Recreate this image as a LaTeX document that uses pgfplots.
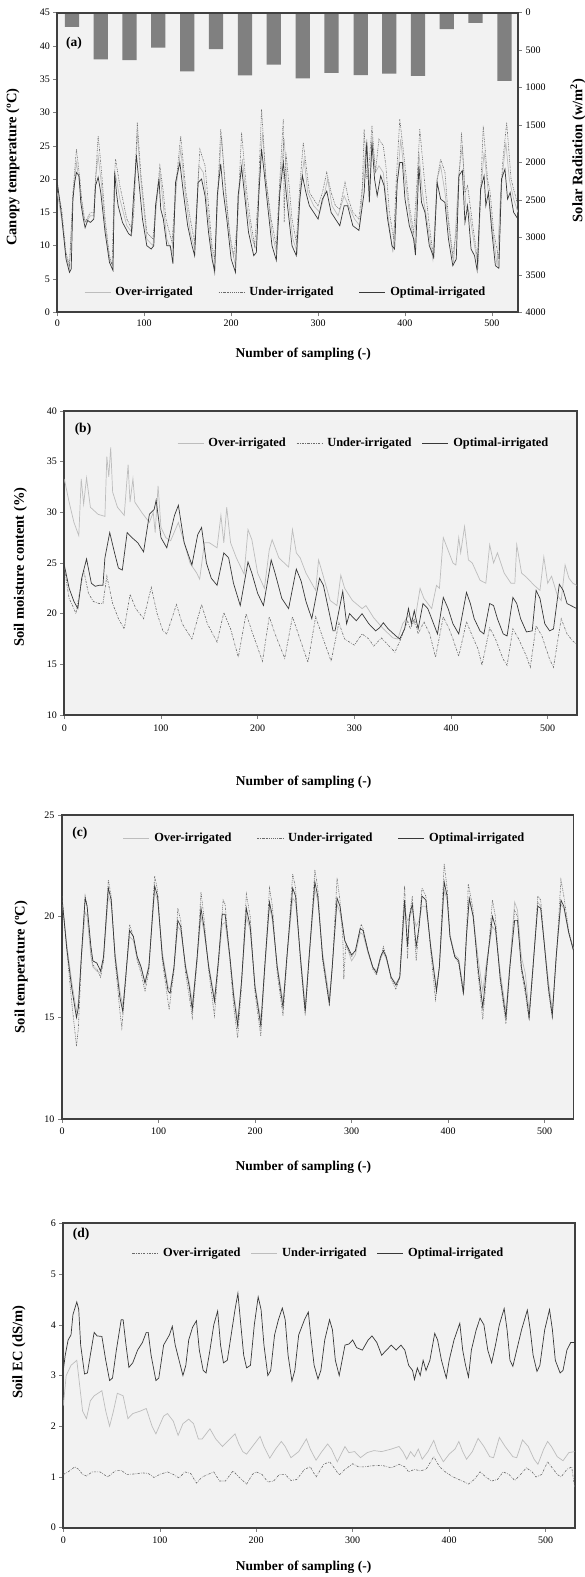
\documentclass[border=0pt]{standalone}
\usepackage{fontspec}
\setmainfont{Liberation Serif}
\usepackage{pgfplots}
\pgfplotsset{compat=1.18}
\definecolor{bgc}{HTML}{F2F2F2}
\definecolor{axc}{HTML}{404040}
\definecolor{overc}{HTML}{BDBDBD}
\definecolor{underc}{HTML}{6A6A6A}
\definecolor{optc}{HTML}{383838}
\definecolor{barc}{HTML}{808080}
\tikzset{ylabfont/.style={font=\bfseries\fontsize{14.5}{16}\selectfont},
         xlabfont/.style={font=\bfseries\fontsize{13.5}{15}\selectfont}}
\pgfplotsset{
 common/.style={
  scale only axis, anchor=south west, xmin=0, xmax=530,
  /pgf/number format/assume math mode=true,
  /pgf/number format/1000 sep={},
  axis line style={draw=axc, line width=1.8pt},
  tick style={draw=gray, line width=0.5pt},
  major tick length=4pt, tick align=outside,
  xtick pos=left, ytick pos=left,
  xtick={0,100,...,500},
  ticklabel style={font=\fontsize{10}{12}\selectfont},
  no markers,
  legend columns=3,
  legend image code/.code={\draw[##1] (0pt,0pt) -- (26pt,0pt);},
  legend style={draw=none, fill=none, anchor=west, inner sep=0pt,
    font=\bfseries\fontsize{12.4}{14}\selectfont, nodes={inner sep=1.5pt},
    /tikz/every odd column/.append style={column sep=3pt}},
 },
 overst/.style={color=overc, line width=0.7pt},
 optst/.style={color=optc, line width=0.7pt},
}
\begin{document}
\begin{tikzpicture}
\path[use as bounding box] (0,0) rectangle (585pt,1577pt);
% ---------------- panel (a): bars -------------
\begin{axis}[scale only axis, anchor=south west, at={(57.3pt,1264.7pt)},
  width=460.7pt, height=299.6pt, xmin=0, xmax=530, ymin=0, ymax=4000,
  y dir=reverse, axis x line=none, axis y line*=right,
  axis background/.style={fill=bgc},
  axis line style={draw=axc, line width=1.8pt},
  tick style={draw=gray, line width=0.5pt}, major tick length=4pt, tick align=outside,
  ytick={0,500,...,4000},
  /pgf/number format/assume math mode=true, /pgf/number format/1000 sep={},
  ticklabel style={font=\fontsize{10}{12}\selectfont},
  every axis y label/.style={at={(axis description cs:1.130,0.54)},rotate=90,anchor=center,ylabfont},
  ylabel={Solar Radiation (w/m\textsuperscript{2})}]
\addplot[ybar, fill=barc, draw=none, bar width=16.4] coordinates {(17,190) (50,623) (83,632) (116,468) (149.5,782) (182.5,486) (216,836) (249,695) (282.5,877) (315.5,805) (349,832) (382,814) (415,845) (448,218) (481,136) (514.5,909)};
\end{axis}
% ---------------- panel (a): temperature -------------
\begin{axis}[common, at={(57.3pt,1264.7pt)}, width=460.7pt, height=299.6pt,
  ymin=0, ymax=45, ytick={0,5,...,45},
  every axis y label/.style={at={(axis description cs:-0.0962,0.485)},rotate=90,anchor=center,ylabfont},
  every axis x label/.style={at={(axis description cs:0.534,-0.139)},anchor=center,xlabfont},
  ylabel={Canopy temperature (ºC)}, xlabel={Number of sampling (-)},
  legend style={at={(0.058,0.068)}, /tikz/every even column/.append style={column sep=24pt}}]
\addplot[overst] coordinates {(0,18) (5,14) (10,8.5) (14,6.5) (18,17.5) (22,22.5) (26,19) (30,14.5) (33,13.5) (38,14.5) (42,14.5) (44,20) (47,23.5) (51,19) (55,13) (60,8) (64,7) (66,21) (68,20) (72,17) (80,13) (86,12) (89,18) (92,27) (96,20) (103,11) (110,10) (114,16) (118,21) (122,16) (126,11) (132,9) (137,19) (142,24.5) (147,18) (153,12) (158,9.5) (163,22) (168,21) (174,14) (178,9) (181,5.5) (185,19) (189,26.5) (194,17) (200,10) (205,7) (209,18) (213,23) (218,16) (224,11) (229,9.5) (232,19) (236,27) (240,20) (247,12) (252,9) (256,19) (261,26) (265,18) (271,11) (276,9) (280,19) (284,23) (288,18) (295,16) (302,15) (306,17) (311,20) (316,16) (323,14.5) (330,17.5) (335,16) (342,14) (348,13) (353,22) (356,26) (359,18) (362,26.5) (366,21) (370,22) (375,21) (380,15) (386,9) (391,19) (395,26) (400,20) (406,14) (411,10) (416,24) (420,18) (425,14) (432,8) (437,20) (441,22) (446,18) (452,11) (456,7.5) (462,21) (466,25) (470,16) (474,15) (480,10) (484,7) (487,18) (491,24) (495,19) (501,12) (506,7) (510,18) (516,25.5) (520,20) (525,17) (530,15)};
\addlegendentry{Over-irrigated}
\addplot[color=underc, line width=0.6pt, dash pattern=on 1.5pt off 1pt on 0.6pt off 1pt on 0.6pt off 1pt] coordinates {(0,19) (5,15.5) (10,9) (14,7) (18,18) (22,24.5) (26,20) (28,17) (32,13.5) (38,15) (42,15) (44,20) (47,26.5) (51,21) (55,14) (60,8.5) (63,7) (66,21) (67,23) (72,19) (80,14) (86,12.5) (88,15) (92,28.5) (96,21) (103,12) (110,11) (114,17) (118,22) (122,18) (125,14) (132,10.5) (137,20) (142,26.5) (148,18) (153,14) (158,10.5) (164,24.5) (170,22) (174,16) (178,10) (181,8) (185,19) (188,27.5) (194,18) (198,12) (203,8.5) (207,13) (212,27) (218,18) (222,14) (227,10) (231,17) (235,30.5) (240,20) (246,14) (252,10) (256,20) (260,29) (261,13.5) (263,24) (266,20) (270,14) (275,10.5) (279,19) (283,25.5) (290,18) (300,16) (305,18) (310,21) (315,18) (320,16) (325,15.5) (331,19.5) (335,17) (340,15) (347,14) (351,19) (353,27.5) (356,20) (358,21) (362,28) (366,21) (370,26) (375,25) (378,22) (382,15) (387,11) (390,20) (394,29) (400,22) (405,16) (410,12) (414,20) (417,27.5) (423,19) (428,13) (433,8) (437,20) (441,23) (446,21) (450,14) (455,8.5) (459,12) (465,27) (469,18) (472,19) (478,13) (484,7.5) (487,18) (490,28) (495,20) (498,18) (502,12) (508,8) (512,22) (517,28.5) (522,20) (526,18) (530,16)};
\addlegendentry{Under-irrigated}
\addplot[optst] coordinates {(0,19.5) (5,14.5) (10,8) (14,6) (16,6.5) (18,17) (20,19.5) (22,21) (25,20.5) (27,16.5) (30,14) (32,12.7) (35,13.8) (38,13.5) (42,14) (44,19) (47,20.3) (50,18) (55,12) (60,7.5) (64,6.3) (66,21) (68,18) (70,16) (75,13.5) (82,11.8) (85,11.5) (88,18) (91,23.6) (94,19.5) (98,14) (103,10) (108,9.5) (111,10) (113,16) (117,20) (119,15.5) (122,14) (126,10) (130,10) (133,7.3) (136,19.5) (141,22.5) (145,18) (150,13) (155,10) (158,8.5) (162,19.5) (166,20) (170,17.5) (174,12) (178,8) (181,6.2) (184,17.5) (188,22.3) (191,18) (195,14) (200,8) (205,6) (208,17.5) (212,21.8) (216,17) (220,12) (226,8.5) (229,9) (232,18) (235,24.5) (238,21) (242,16) (247,10) (252,7.8) (256,18) (260,22.5) (264,17) (270,10) (275,8.5) (279,17) (282,20.5) (286,18) (290,16) (295,15) (300,14) (305,17) (310,18.2) (315,15) (320,14) (325,13) (330,16) (334,16) (340,13) (347,12.3) (353,18) (356,25.5) (359,16.5) (362,25.5) (365,20) (368,17.5) (372,20.5) (376,19) (380,14) (385,10) (388,9.5) (391,19.5) (394,22.5) (397,22.5) (400,17) (405,13) (410,11) (412,8.6) (416,22) (419,16.5) (423,15) (428,10) (433,8.3) (437,19.5) (441,17) (446,16.5) (450,11) (455,7) (459,8) (462,20.5) (466,21.3) (469,13.5) (472,16) (476,9.5) (480,8.5) (483,6.3) (487,18.5) (491,20.5) (493,16) (496,18) (500,12) (504,7) (508,6.6) (511,20) (515,21.5) (518,17) (521,18) (525,15) (530,14)};
\addlegendentry{Optimal-irrigated}
\node[font=\bfseries\fontsize{13.5}{15}\selectfont] at (rel axis cs:0.036,0.899) {(a)};
\end{axis}
% ---------------- panel (b) -------------
\begin{axis}[common, at={(64.3pt,862pt)}, width=512.4pt, height=304pt,
  axis background/.style={fill=bgc},
  ymin=10, ymax=40, ytick={10,15,...,40},
  xticklabel style={yshift=-2pt},
  every axis y label/.style={at={(axis description cs:-0.0855,0.487)},rotate=90,anchor=center,ylabfont},
  every axis x label/.style={at={(axis description cs:0.467,-0.220)},anchor=center,xlabfont},
  ylabel={Soil moisture content (\%)}, xlabel={Number of sampling (-)},
  legend style={at={(0.22,0.895)}, /tikz/every even column/.append style={column sep=9pt}}]
\addplot[overst] coordinates {(0,33.3) (5,31) (10,29) (15,27.7) (17.5,33.3) (20,30.8) (23,33.4) (27,30.5) (35,29.8) (42,29.6) (44,35.5) (46,33.5) (48,36.4) (50,32) (55,30.5) (62,29.7) (66,34.7) (68,31) (71,33.3) (73,31) (80,30) (88,29) (92,30) (94,28) (97,32.6) (100,28.5) (105,27.5) (110,27.2) (118,29) (124,27) (130,25) (137,24) (140,23.4) (145,27) (150,27) (158,26.5) (162,29.7) (165,27) (168,30.5) (172,27) (178,25.5) (186,23.9) (190,28.3) (194,27.3) (200,24) (207,22.5) (212,26.3) (215,27.3) (222,25.5) (232,24.6) (236,28.3) (240,26) (244,25.5) (250,24) (260,22.3) (263,25.3) (267,24) (275,21.3) (282,20.8) (286,23.8) (290,22.5) (298,21.3) (308,20.5) (312,20.8) (320,19.6) (330,18.5) (340,17.6) (345,17.5) (350,19) (356,19.8) (362,19) (368,22.5) (372,21.5) (380,20.5) (385,22.8) (388,22.5) (392,27.5) (396,26.5) (402,25) (405,24.8) (408,27.5) (410,26) (414,28.6) (418,25.3) (422,25) (430,23.3) (436,23) (440,26.8) (444,25) (448,26) (455,24) (462,23) (466,23) (468,26.8) (473,24) (478,23.6) (486,22.8) (492,22.3) (496,25.6) (500,23) (504,23.7) (510,21.8) (514,21.3) (518,24.8) (522,23.5) (526,23) (530,22.8)};
\addlegendentry{Over-irrigated}
\addplot[color=underc, line width=0.6pt, dash pattern=on 2.2pt off 1.3pt on 0.6pt off 1.3pt] coordinates {(0,24.5) (5,21.5) (10,20.5) (12,20) (20,24.3) (25,22) (30,21.2) (36,21) (40,21) (44,23.7) (50,21) (56,19.5) (62,18.5) (68,21.9) (74,20.5) (82,19.5) (90,22.6) (96,20) (102,18.3) (106,18) (116,20.9) (122,19) (132,17.5) (142,20.9) (148,19) (158,17.2) (165,20.1) (172,18.5) (180,15.7) (188,20) (195,18) (205,15.3) (212,19.7) (218,18) (228,15.6) (236,19.7) (242,18) (252,15.2) (260,19.7) (266,18) (276,15.3) (284,19.1) (290,17.5) (300,16.9) (308,18) (315,17.5) (320,16.8) (328,17.6) (334,17) (342,16.2) (348,17.5) (355,19.3) (358,18.5) (362,19.5) (366,18) (372,19.2) (378,18) (384,15.7) (392,19.7) (398,18.5) (402,17.5) (408,15.8) (416,19.2) (422,17.8) (428,16.5) (432,14.9) (440,18.6) (446,17.5) (454,15.5) (458,14.9) (464,18.5) (470,17.5) (478,15.8) (482,14.7) (488,18.8) (494,17.8) (502,15.5) (506,14.7) (514,19.5) (520,18) (526,17.3) (530,17)};
\addlegendentry{Under-irrigated}
\addplot[optst] coordinates {(0,24.8) (5,22.5) (10,21.2) (14,20.5) (18,23.5) (23,25.4) (28,23) (32,22.7) (36,22.8) (40,22.8) (42,25.5) (47,28) (52,26) (56,24.5) (60,24.3) (65,28) (70,27.5) (76,27) (82,26.1) (88,29.8) (93,30.3) (95,31.2) (100,27.5) (106,26.5) (114,29.7) (118,30.7) (124,27) (132,24.8) (138,27.8) (142,28.5) (147,25) (152,23.5) (158,22.8) (165,26) (170,25.5) (175,23) (182,20.8) (190,25.1) (194,24) (200,22) (206,20.8) (214,25.3) (218,24) (225,21.5) (232,20.5) (240,24.4) (245,23.2) (250,21.2) (256,19.5) (264,23.5) (268,22.8) (272,21) (278,18.3) (280,18.3) (288,22.2) (292,19) (295,20) (302,19.3) (308,20) (315,19) (322,18.3) (326,18.6) (330,19.1) (335,18.5) (343,17.8) (347,17.5) (352,18.5) (356,20.5) (359,19) (362,20.3) (366,18.5) (371,21) (376,20.5) (382,19) (386,18) (392,21.6) (397,20.5) (402,19) (408,18) (416,22.1) (420,21) (424,19.5) (430,18.3) (434,18) (440,21) (444,20.8) (448,19.5) (454,18) (458,17.8) (464,21.6) (468,21) (472,19.5) (478,18.2) (484,18.3) (488,22.3) (492,21.5) (497,19) (502,18.3) (506,18.5) (512,22.9) (516,22.3) (520,21) (526,20.7) (530,20.5)};
\addlegendentry{Optimal-irrigated}
\node[font=\bfseries\fontsize{13.5}{15}\selectfont] at (rel axis cs:0.0365,0.941) {(b)};
\end{axis}
% ---------------- panel (c) -------------
\begin{axis}[common, at={(62pt,458pt)}, width=511.5pt, height=304pt,
  axis background/.style={fill=bgc},
  ymin=10, ymax=25, ytick={10,15,20,25},
  xticklabel style={yshift=-1.5pt},
  every axis y label/.style={at={(axis description cs:-0.080,0.50)},rotate=90,anchor=center,ylabfont},
  every axis x label/.style={at={(axis description cs:0.472,-0.158)},anchor=center,xlabfont},
  ylabel={Soil temperature (ºC)}, xlabel={Number of sampling (-)},
  legend style={at={(0.119,0.924)}, /tikz/every even column/.append style={column sep=24pt}}]
\addplot[overst] coordinates {(0,20.8) (5,18.6) (10,16.8) (15,15.3) (17,15.8) (20,17.9) (24,20.2) (26,20) (30,18) (32,17.5) (36,17.3) (40,17.2) (43,17.8) (48,21) (51,20.6) (55,18.2) (60,16.3) (63,15.6) (66,17) (70,19) (74,18.8) (78,17.9) (82,17.4) (86,16.8) (90,17.6) (96,21.2) (99,20.8) (104,18.2) (110,16.5) (112,16.4) (116,17.4) (120,19.5) (123,19.3) (128,17.6) (132,16.7) (135,15.7) (140,17.8) (144,20) (147,19.3) (152,17.6) (158,16) (162,17.6) (166,19.6) (169,19.7) (174,17.9) (178,16.2) (182,14.9) (186,16.7) (191,20) (195,19.3) (200,16.6) (206,14.9) (210,17.3) (215,20.5) (218,19.8) (223,17.6) (229,15.8) (233,17.9) (239,20.9) (242,20.7) (247,18.1) (252,15.6) (256,17.9) (262,21.3) (265,20.8) (270,18.2) (277,16) (280,17.5) (285,20.6) (288,20.2) (293,18.8) (296,18.4) (300,17.8) (304,18.1) (309,19.2) (312,19.1) (317,18.2) (322,17.5) (326,17.3) (330,17.9) (333,18.2) (336,17.9) (341,17) (346,16.7) (350,17) (355,20.3) (358,19.8) (360,19.9) (363,20.3) (367,19.5) (370,19.8) (373,20.5) (377,20.5) (382,18.6) (388,16.5) (391,17.5) (396,21.3) (399,20.8) (402,19.1) (407,18.1) (411,17.9) (416,16.4) (419,18.8) (422,20.8) (426,20) (431,18) (436,16.3) (440,17.8) (446,19.5) (449,19.3) (454,17.3) (460,15.3) (464,17.6) (469,20.7) (472,20.3) (476,18) (480,17.2) (484,15.3) (488,17.5) (493,20.7) (496,20.5) (500,18.6) (504,16.8) (508,15.4) (512,17.9) (517,20.6) (520,20.4) (525,19.2) (530,18.4)};
\addlegendentry{Over-irrigated}
\addplot[color=underc, line width=0.6pt, dash pattern=on 1.5pt off 1pt on 0.6pt off 1pt on 0.6pt off 1pt] coordinates {(0,21) (5,18.3) (10,15.8) (15,13.6) (17,14.5) (20,17.8) (24,21) (26,20.5) (30,18.2) (32,17.6) (36,17.4) (40,17) (43,17.8) (48,21.8) (51,21) (55,17.8) (60,15.3) (62,14.5) (66,16.8) (70,19.6) (74,19) (78,17.8) (82,17.2) (86,16.3) (90,17.3) (96,22) (99,21.3) (104,17.8) (111,15.4) (116,17.3) (120,20.4) (123,19.8) (128,17.2) (132,16) (135,15) (140,17.8) (144,21.2) (147,20) (152,17.3) (158,15.1) (162,17.6) (167,20.8) (169,20.6) (174,17.8) (178,15.5) (182,14) (186,16.5) (191,21.1) (195,20) (200,16.2) (206,14.1) (210,17.3) (215,21.4) (218,20.5) (223,17.2) (229,15.1) (233,17.8) (239,22.1) (242,21.4) (247,17.8) (252,15.1) (256,17.8) (262,22.3) (265,21.4) (270,17.8) (277,15.6) (280,17.4) (285,21.9) (288,20.8) (291,18.9) (292,16.9) (294,18.6) (300,18) (304,18.3) (310,19.6) (312,19.4) (317,18.3) (322,17.4) (326,17.1) (330,17.9) (333,18.5) (336,18) (341,16.9) (346,16.4) (350,17) (355,21.5) (358,17.9) (360,20) (363,21) (367,17.8) (370,19.5) (373,21.4) (377,21) (382,18.3) (387,15.9) (391,17.5) (396,22.6) (399,21.4) (402,19) (407,18) (411,17.7) (416,16.1) (419,19) (421,21.6) (426,20.3) (431,17.2) (436,14.9) (440,17.2) (446,20.8) (449,20) (454,16.8) (460,14.7) (464,17.3) (469,20.3) (472,20) (476,17.3) (480,16.2) (484,14.9) (488,17.3) (493,21) (496,20.8) (500,18.5) (504,16.3) (508,15) (512,17.8) (517,21.8) (520,21) (525,19.3) (530,18.3)};
\addlegendentry{Under-irrigated}
\addplot[optst] coordinates {(0,20.9) (5,18.4) (10,16.5) (15,15) (17,15.5) (20,18) (24,20.9) (26,20.5) (30,18.5) (32,17.8) (36,17.7) (40,17.3) (43,18) (48,21.4) (51,20.8) (55,18) (60,16) (63,15.3) (66,17) (70,19.3) (74,19) (78,18) (82,17.5) (86,16.7) (90,17.5) (96,21.5) (99,21) (104,18) (110,16.3) (112,16.2) (116,17.5) (120,19.8) (123,19.5) (128,17.5) (132,16.5) (135,15.4) (140,18) (144,20.4) (147,19.5) (152,17.5) (158,15.8) (162,17.8) (166,20.1) (169,20.1) (174,18) (178,16) (182,14.6) (186,16.8) (191,20.4) (195,19.5) (200,16.5) (206,14.6) (210,17.5) (215,20.7) (218,20) (223,17.5) (229,15.5) (233,18) (239,21.4) (242,21) (247,18) (252,15.3) (256,18) (262,21.7) (265,21) (270,18) (277,15.7) (280,17.5) (285,20.9) (288,20.5) (293,18.8) (296,18.5) (300,18.1) (304,18.3) (309,19.4) (312,19.3) (317,18.3) (322,17.5) (326,17.2) (330,18) (333,18.3) (336,18) (341,17) (346,16.6) (350,17) (355,20.8) (358,18.5) (360,20) (363,20.6) (367,18.5) (370,19.5) (373,21) (377,20.8) (382,18.5) (388,16.3) (391,17.5) (396,21.7) (399,21) (402,19) (407,18) (411,17.8) (416,16.2) (419,19) (422,20.9) (426,20) (431,17.5) (436,15.5) (440,17.5) (446,20) (449,19.5) (454,17) (460,15) (464,17.5) (469,19.8) (472,19.8) (476,17.5) (480,16.5) (484,15) (488,17.5) (493,20.5) (496,20.4) (500,18.5) (504,16.5) (508,15.1) (512,18) (517,20.8) (520,20.5) (525,19.2) (530,18.3)};
\addlegendentry{Optimal-irrigated}
\node[font=\bfseries\fontsize{13.5}{15}\selectfont] at (rel axis cs:0.035,0.941) {(c)};
\end{axis}
% ---------------- panel (d) -------------
\begin{axis}[common, at={(63.3pt,49.3pt)}, width=511.3pt, height=304.4pt,
  axis background/.style={fill=bgc},
  ymin=0, ymax=6, ytick={0,1,...,6},
  xticklabel style={yshift=-1.5pt},
  every axis y label/.style={at={(axis description cs:-0.087,0.577)},rotate=90,anchor=center,ylabfont},
  every axis x label/.style={at={(axis description cs:0.470,-0.131)},anchor=center,xlabfont},
  ylabel={Soil EC (dS/m)}, xlabel={Number of sampling (-)},
  legend style={at={(0.134,0.902)}, /tikz/every even column/.append style={column sep=9pt}}]
\addplot[color=underc, line width=0.6pt, dash pattern=on 2.2pt off 1.3pt on 0.6pt off 1.3pt] coordinates {(0,1.05) (5,1.1) (12,1.2) (16,1.15) (20,1.05) (24,1.02) (30,1.1) (38,1.1) (46,1.0) (54,1.12) (60,1.13) (66,1.05) (74,1.06) (82,1.08) (88,1.07) (94,0.99) (100,1.05) (108,1.1) (114,1.05) (120,0.98) (126,1.1) (132,1.07) (138,0.88) (144,1.0) (150,1.05) (156,1.1) (162,0.92) (168,0.92) (176,1.12) (182,1.0) (190,0.86) (196,1.05) (200,1.1) (206,1.05) (212,0.9) (218,0.92) (224,1.05) (230,1.05) (236,0.93) (242,0.95) (250,1.15) (256,1.2) (262,1.0) (270,1.25) (276,1.3) (280,1.2) (286,1.04) (292,1.15) (300,1.26) (306,1.2) (312,1.2) (320,1.22) (330,1.23) (340,1.18) (348,1.25) (354,1.2) (358,1.1) (364,1.15) (370,1.12) (376,1.15) (384,1.4) (390,1.2) (396,1.1) (404,1.0) (410,0.95) (416,0.9) (420,0.86) (426,0.95) (432,1.1) (438,1.0) (444,0.92) (450,0.95) (456,1.1) (462,1.05) (468,0.93) (474,1.05) (480,1.18) (486,1.1) (490,1.0) (496,1.05) (502,1.3) (506,1.2) (512,1.05) (516,1.0) (522,1.15) (527,1.2) (530,0.8)};
\addlegendentry{Over-irrigated}
\addplot[overst] coordinates {(0,2.4) (3,3.0) (8,3.2) (14,3.3) (17,2.8) (20,2.3) (24,2.15) (28,2.5) (32,2.6) (40,2.7) (44,2.3) (48,2.0) (52,2.3) (56,2.65) (62,2.6) (67,2.15) (72,2.25) (80,2.3) (86,2.35) (92,2.0) (96,1.85) (104,2.2) (108,2.25) (114,2.1) (119,1.82) (124,2.05) (130,2.14) (135,2.05) (140,1.75) (144,1.75) (152,1.95) (158,1.75) (165,1.6) (170,1.7) (178,1.85) (182,1.65) (186,1.5) (190,1.45) (196,1.6) (204,1.8) (208,1.6) (214,1.37) (220,1.55) (226,1.7) (230,1.6) (236,1.38) (244,1.5) (252,1.75) (256,1.55) (262,1.33) (268,1.5) (274,1.65) (278,1.55) (284,1.3) (292,1.6) (296,1.48) (302,1.5) (308,1.38) (315,1.48) (322,1.52) (330,1.5) (340,1.55) (348,1.6) (352,1.5) (356,1.35) (360,1.5) (364,1.4) (368,1.55) (372,1.35) (378,1.5) (384,1.72) (388,1.5) (394,1.3) (400,1.45) (406,1.55) (410,1.7) (414,1.5) (418,1.35) (424,1.5) (430,1.76) (436,1.6) (442,1.4) (446,1.38) (452,1.78) (458,1.6) (466,1.4) (470,1.38) (476,1.73) (482,1.6) (488,1.35) (492,1.25) (498,1.55) (502,1.7) (506,1.6) (512,1.4) (518,1.32) (524,1.48) (530,1.5)};
\addlegendentry{Under-irrigated}
\addplot[optst] coordinates {(0,3.1) (2,3.4) (5,3.7) (8,3.8) (10,4.2) (14,4.45) (16,4.3) (18,3.6) (22,3.03) (25,3.05) (28,3.4) (32,3.85) (35,3.78) (40,3.77) (44,3.3) (48,2.9) (51,2.95) (55,3.5) (60,4.1) (62,4.1) (65,3.6) (68,3.16) (72,3.25) (77,3.5) (82,3.65) (86,3.85) (88,3.85) (91,3.4) (96,2.9) (99,2.95) (104,3.6) (110,3.8) (113,3.97) (116,3.6) (120,3.3) (124,3.0) (127,3.2) (130,3.7) (134,3.95) (138,4.08) (141,3.5) (145,3.1) (148,3.05) (152,3.5) (156,4.0) (160,4.27) (163,3.6) (166,3.25) (170,3.3) (174,3.8) (178,4.3) (181,4.62) (184,4.0) (187,3.4) (190,3.15) (194,3.2) (198,4.0) (202,4.55) (205,4.3) (208,3.6) (212,3.0) (215,3.1) (219,3.8) (223,4.1) (227,4.33) (230,4.1) (233,3.4) (237,2.89) (240,3.1) (244,3.8) (250,4.1) (254,4.25) (257,3.7) (260,3.2) (264,2.93) (267,3.1) (271,3.7) (276,4.1) (279,3.9) (282,3.3) (286,3.0) (289,3.3) (292,3.6) (296,3.62) (300,3.7) (304,3.55) (310,3.5) (316,3.7) (320,3.78) (325,3.65) (330,3.4) (335,3.5) (340,3.6) (345,3.5) (350,3.6) (354,3.5) (358,3.2) (362,3.1) (364,2.92) (367,3.15) (370,3.0) (373,3.3) (376,3.1) (380,3.3) (385,3.83) (388,3.7) (392,3.3) (397,2.95) (400,3.3) (405,3.7) (411,4.03) (414,3.5) (417,3.2) (420,2.97) (423,3.5) (428,3.9) (432,4.13) (436,4.0) (440,3.5) (444,3.25) (448,3.6) (452,4.0) (457,4.32) (460,3.9) (463,3.3) (466,3.18) (470,3.5) (475,3.9) (481,4.29) (484,3.9) (487,3.4) (491,3.08) (494,3.2) (499,3.9) (504,4.3) (507,3.9) (510,3.3) (515,3.05) (518,3.1) (522,3.5) (526,3.65) (530,3.65)};
\addlegendentry{Optimal-irrigated}
\node[font=\bfseries\fontsize{13.5}{15}\selectfont] at (rel axis cs:0.035,0.965) {(d)};
\end{axis}
\end{tikzpicture}
\end{document}
